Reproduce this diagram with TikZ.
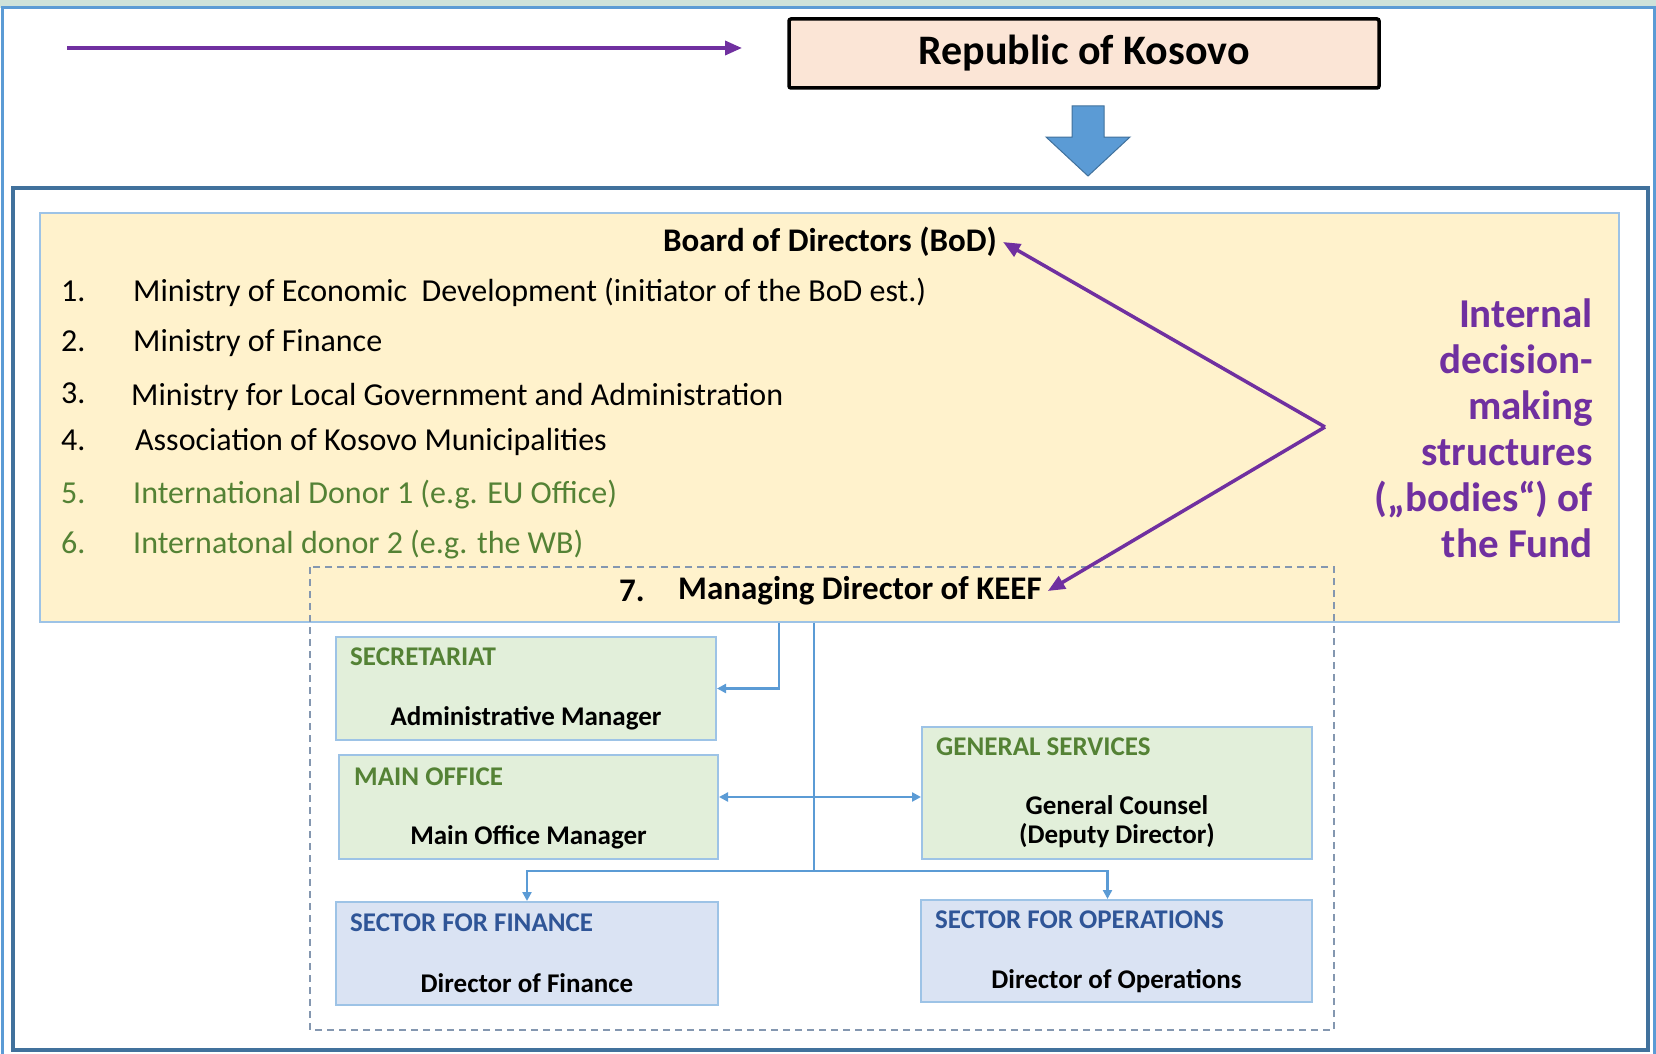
\documentclass[tikz,border=0pt]{standalone}
\usepackage{fontspec}
\setmainfont{Carlito}
\usepackage{xcolor}
\definecolor{ColPurple}{RGB}{112,48,160}
\definecolor{ColLine}{RGB}{91,155,213}
\definecolor{ColEdge}{RGB}{157,195,230}
\definecolor{ColFrame}{RGB}{65,113,156}
\definecolor{ColYellow}{RGB}{255,242,204}
\definecolor{ColGreen}{RGB}{226,239,218}
\definecolor{ColBlue}{RGB}{218,227,243}
\definecolor{ColPeach}{RGB}{251,229,214}
\definecolor{ColGreenT}{RGB}{84,130,53}
\definecolor{ColBlueT}{RGB}{47,85,151}
\definecolor{ColDash}{RGB}{132,151,176}
\definecolor{ColTop}{RGB}{206,226,218}
\usepackage{tikz}
\usetikzlibrary{arrows.meta}
\newcommand{\ItemFont}{\fontsize{32}{38}\selectfont}
\newcommand{\TitleFont}{\fontsize{33}{38}\selectfont\bfseries}
\newcommand{\RepFont}{\fontsize{42}{48}\selectfont\bfseries}
\newcommand{\SideFont}{\fontsize{41}{46}\selectfont\bfseries}
\newcommand{\HeadFont}{\fontsize{27}{30}\selectfont\bfseries}
\newcommand{\BodyFont}{\fontsize{27}{29}\selectfont\bfseries}
\tikzstyle{Frame}=[draw=ColFrame,line width=4pt]
\tikzstyle{Panel}=[draw=ColEdge,fill=ColYellow,line width=1.5pt,inner sep=0pt]
\tikzstyle{Dash}=[draw=ColDash,line width=1.5pt,dash pattern=on 7pt off 5pt]
\tikzstyle{Rep}=[draw=black,fill=ColPeach,line width=3.5pt,rounded corners=2pt,
minimum width=590pt,minimum height=69pt,font=\RepFont]
\tikzstyle{BigArrow}=[fill=ColLine,draw=ColFrame,line width=1pt]
\tikzstyle{Title}=[inner sep=6pt,font=\TitleFont]
\tikzstyle{Num}=[anchor=base west,inner sep=0pt,font=\ItemFont]
\tikzstyle{Item}=[anchor=base west,inner sep=0pt,font=\ItemFont]
\tikzstyle{Side}=[anchor=east,align=right,inner sep=0pt,text=ColPurple,font=\SideFont]
\tikzstyle{Unit}=[draw=ColEdge,line width=2pt,inner sep=0pt,minimum width=382pt,
minimum height=103pt]
\tikzstyle{UnitG}=[Unit,fill=ColGreen]
\tikzstyle{UnitB}=[Unit,fill=ColBlue]
\tikzstyle{Head}=[anchor=west,inner sep=0pt,font=\HeadFont]
\tikzstyle{Body}=[inner sep=0pt,align=center,font=\BodyFont]
\tikzstyle{Line}=[draw=ColLine,line width=2.5pt]
\tikzstyle{Edge}=[Line,-{Triangle[length=9pt,width=9pt]}]
\tikzstyle{EdgeB}=[Line,{Triangle[length=9pt,width=9pt]}-{Triangle[length=9pt,width=9pt]}]
\tikzstyle{EdgeP}=[draw=ColPurple,line width=3.5pt,-{Triangle[length=17pt,width=14pt]}]

\begin{document}
\begin{tikzpicture}[x=1pt,y=-1pt]
    \useasboundingbox(0,0)rectangle(1656,1054);
    \fill[ColTop](0,0)rectangle(1656,8);
    \draw[ColLine,line width=3pt](2,8)rectangle(1654,1058);
    \draw[Frame](13,188)rectangle(1648,1050);
    \node[Panel,minimum width=1579pt,minimum height=409pt](board)at(829.5,417.5){};
    \draw[Dash](310,567)rectangle(1334,1030);
    \coordinate(src)at(67,48);
    \coordinate(dst)at(742,48);
    \draw[EdgeP](src)--(dst);
    \node[Rep](rok)at(1084,53.5){Republic of Kosovo};
    \draw[BigArrow](1072,106)--(1104,106)--(1104,137)--(1130,137)--(1088,176)
        --(1046,137)--(1072,137)--cycle;
    \node[Title](bod)at(830,242){Board of Directors (BoD)};
    \node[Num](n1)at(61,301){1.};
    \node[Item](i1)at(133,301){Ministry of Economic~ Development (initiator of the BoD est.)};
    \node[Num](n2)at(61,351){2.};
    \node[Item](i2)at(133,351){Ministry of Finance};
    \node[Num](n3)at(61,403){3.};
    \node[Item](i3)at(131,405){Ministry for Local Government and Administration};
    \node[Num](n4)at(61,450){4.};
    \node[Item](i4)at(135,450){Association of Kosovo Municipalities};
    \node[Num,text=ColGreenT](n5)at(61,503){5.};
    \node[Item,text=ColGreenT](i5)at(133,503){International Donor 1 (e.g. EU Office)};
    \node[Num,text=ColGreenT](n6)at(61,553){6.};
    \node[Item,text=ColGreenT](i6)at(133,553){Internatonal donor 2 (e.g. the WB)};
    \node[Title,anchor=west](n7)at(613,591){7.};
    \node[Title,anchor=west](md)at(672,591){Managing Director of KEEF};
    \node[Side](side)at(1593,428){Internal\\decision-\\making\\structures\\(„bodies“) of\\the Fund};
    \coordinate(apex)at(1325,427);
    \draw[EdgeP](apex)--(bod.east);
    \draw[EdgeP](apex)--(md.east);
    \node[UnitG,minimum width=380pt](sec)at(526,688.5){};
    \node[Head,text=ColGreenT](sech)at([xshift=15pt,yshift=-21pt]sec.north west){SECRETARIAT};
    \node[Body](secb)at([yshift=23pt]sec.south){Administrative Manager};
    \node[UnitG,minimum width=379pt,minimum height=104pt](main)at(528.5,807){};
    \node[Head,text=ColGreenT](mainh)at([xshift=16pt,yshift=-23pt]main.north west){MAIN OFFICE};
    \node[Body](mainb)at([yshift=23pt]main.south){Main Office Manager};
    \node[UnitG,minimum width=390pt,minimum height=132pt](gen)at(1117,793){};
    \node[Head,text=ColGreenT](genh)at([xshift=15pt,yshift=-21pt]gen.north west){GENERAL SERVICES};
    \node[Body](genb)at([yshift=38pt]gen.south){General Counsel\\(Deputy Director)};
    \node[UnitB](fin)at(527,953.5){};
    \node[Head,text=ColBlueT](finh)at([xshift=15pt,yshift=-22pt]fin.north west){SECTOR FOR FINANCE};
    \node[Body](finb)at([yshift=23pt]fin.south){Director of Finance};
    \node[UnitB,minimum width=391pt,minimum height=102pt](ops)at(1116.5,951){};
    \node[Head,text=ColBlueT](opsh)at([xshift=15pt,yshift=-21pt]ops.north west){SECTOR FOR OPERATIONS};
    \node[Body](opsb)at([yshift=22pt]ops.south){Director of Operations};
    \coordinate(trunk)at(814,871);
    \coordinate(drop)at(779,692);
    \draw[Line](board.south -| trunk)--(trunk);
    \draw[Edge](board.south -| drop)|-(sec.east);
    \draw[EdgeB]([yshift=10pt]main.east)--([yshift=10pt]main.east -| gen.west);
    \draw[Edge](trunk)-|(fin.north);
    \draw[Edge](trunk)-|([xshift=-9pt]ops.north);
\end{tikzpicture}
\end{document}
